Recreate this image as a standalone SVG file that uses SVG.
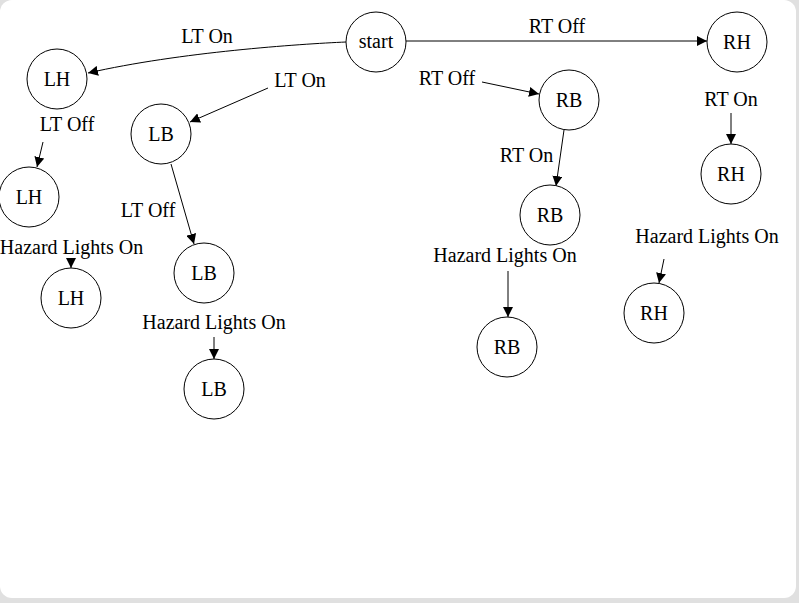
<svg xmlns="http://www.w3.org/2000/svg" width="799" height="603" viewBox="0 0 799 603">
  <defs>
    <marker id="arrow" viewBox="0 0 10 10" refX="10" refY="5" markerWidth="10" markerHeight="10" markerUnits="userSpaceOnUse" orient="auto">
      <path d="M0,0 L10,5 L0,10 Z" fill="#000"/>
    </marker>
  </defs>
  <style>
    .node circle { fill: #fff; stroke: #000; stroke-width: 1; }
    .edge { fill: none; stroke: #000; stroke-width: 1; marker-end: url(#arrow); }
  </style>

  <rect x="0" y="0" width="799" height="603" fill="#e0e0e0"/>
  <rect x="0" y="0" width="796" height="598" rx="12" ry="12" fill="#fff"/>

  <g id="connectors" fill="none" stroke="#000" stroke-width="1">
    <path class="edge" d="M346,42 C300,44 180,52 88,73"/>
    <path class="edge" d="M406,41 L707,41"/>
    <path class="edge" d="M268,88 L190,122"/>
    <path class="edge" d="M43,142 L37,167"/>
    <path class="edge" d="M171,164 L194,244"/>
    <path class="edge" d="M71,258 L71,268"/>
    <path class="edge" d="M214,337 L214,359"/>
    <path class="edge" d="M482,82 L539,94"/>
    <path class="edge" d="M564,130 L556,186"/>
    <path class="edge" d="M731,113 L731,144"/>
    <path class="edge" d="M508,271 L508,317"/>
    <path class="edge" d="M664,259 L659,283"/>
  </g>

  <g id="edge-labels" font-family="'Liberation Serif', 'Times New Roman', 'DejaVu Serif', serif" font-size="20" text-anchor="middle" fill="#000">
    <text x="207" y="43">LT On</text>
    <text x="557" y="33">RT Off</text>
    <text x="300" y="87">LT On</text>
    <text x="67" y="131">LT Off</text>
    <text x="148" y="217">LT Off</text>
    <text x="71.5" y="254">Hazard Lights On</text>
    <text x="214" y="329">Hazard Lights On</text>
    <text x="447" y="85">RT Off</text>
    <text x="526.5" y="162">RT On</text>
    <text x="731" y="106">RT On</text>
    <text x="505" y="262">Hazard Lights On</text>
    <text x="707" y="243">Hazard Lights On</text>
  </g>

  <g id="nodes" font-family="'Liberation Serif', 'Times New Roman', 'DejaVu Serif', serif" font-size="20" text-anchor="middle" fill="#000">
    <g id="start" class="node"><circle cx="376" cy="42" r="30"/><text x="376" y="48">start</text></g>
    <g id="rh-1" class="node"><circle cx="737" cy="42" r="30"/><text x="737" y="49">RH</text></g>
    <g id="lh-1" class="node"><circle cx="57" cy="79" r="30"/><text x="57" y="86">LH</text></g>
    <g id="lb-1" class="node"><circle cx="161" cy="134" r="30"/><text x="161" y="141">LB</text></g>
    <g id="lh-2" class="node"><circle cx="29" cy="197" r="30"/><text x="29" y="204">LH</text></g>
    <g id="lh-3" class="node"><circle cx="71" cy="298" r="30"/><text x="71" y="305">LH</text></g>
    <g id="lb-2" class="node"><circle cx="204" cy="273" r="30"/><text x="204" y="280">LB</text></g>
    <g id="lb-3" class="node"><circle cx="214" cy="389" r="30"/><text x="214" y="396">LB</text></g>
    <g id="rb-1" class="node"><circle cx="569" cy="100" r="30"/><text x="569" y="107">RB</text></g>
    <g id="rb-2" class="node"><circle cx="550" cy="215" r="30"/><text x="550" y="222">RB</text></g>
    <g id="rb-3" class="node"><circle cx="507" cy="347" r="30"/><text x="507" y="354">RB</text></g>
    <g id="rh-2" class="node"><circle cx="731" cy="174" r="30"/><text x="731" y="181">RH</text></g>
    <g id="rh-3" class="node"><circle cx="654" cy="313" r="30"/><text x="654" y="320">RH</text></g>
  </g>
</svg>
